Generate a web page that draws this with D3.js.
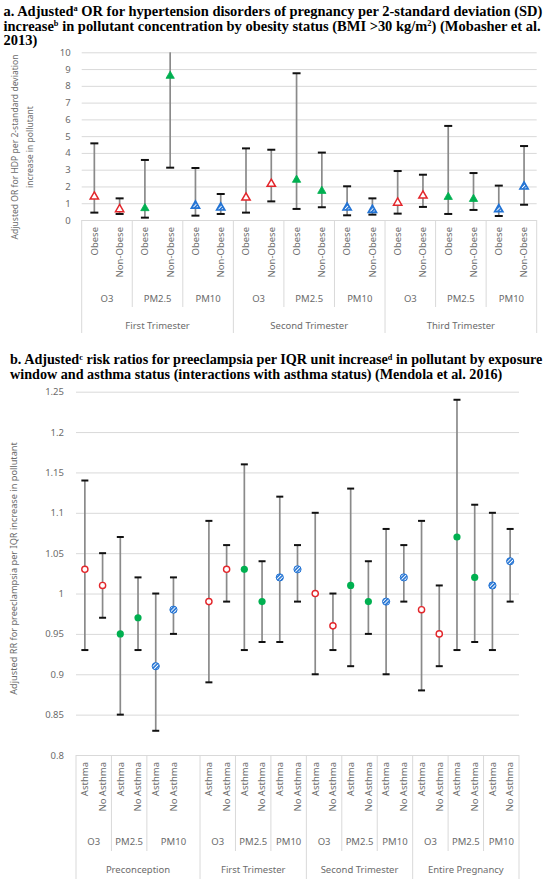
<!DOCTYPE html>
<html><head><meta charset="utf-8">
<script src="https://cdn.jsdelivr.net/npm/d3@7"></script>
<style>body{margin:0;background:#fff} svg{display:block}</style>
</head><body><svg id="c" width="551" height="885"></svg>
<script>
// ---------- Panel a data ----------
const aTrimesters = ["First Trimester", "Second Trimester", "Third Trimester"];
const aPollutants = ["O3", "PM2.5", "PM10"];
const aStatus = ["Obese", "Non-Obese"];
const aOR    = [1.39, 0.64, 0.70, 8.59, 0.85, 0.74, 1.33, 2.15, 2.39, 1.73, 0.74, 0.60, 1.03, 1.45, 1.37, 1.25, 0.64, 1.99];
const aLower = [0.44, 0.36, 0.14, 3.12, 0.26, 0.36, 0.44, 1.11, 0.66, 0.76, 0.28, 0.32, 0.38, 0.78, 0.36, 0.60, 0.24, 0.91];
const aUpper = [4.57, 1.29, 3.58, 10.5, 3.10, 1.55, 4.27, 4.19, 8.75, 4.02, 2.01, 1.29, 2.92, 2.70, 5.61, 2.80, 2.05, 4.41];
const aYTicks = [0, 1, 2, 3, 4, 5, 6, 7, 8, 9, 10];

// ---------- Panel b data ----------
const bWindows = ["Preconception", "First Trimester", "Second Trimester", "Entire Pregnancy"];
const bPollutants = ["O3", "PM2.5", "PM10"];
const bStatus = ["Asthma", "No Asthma"];
const bRR    = [1.03, 1.01, 0.95, 0.97, 0.91, 0.98, 0.99, 1.03, 1.03, 0.99, 1.02, 1.03, 1.00, 0.96, 1.01, 0.99, 0.99, 1.02, 0.98, 0.95, 1.07, 1.02, 1.01, 1.04];
const bLower = [0.93, 0.97, 0.85, 0.93, 0.83, 0.95, 0.89, 0.99, 0.93, 0.94, 0.94, 0.99, 0.90, 0.93, 0.91, 0.95, 0.90, 0.99, 0.88, 0.91, 0.93, 0.94, 0.93, 0.99];
const bUpper = [1.14, 1.05, 1.07, 1.02, 1.00, 1.02, 1.09, 1.06, 1.16, 1.04, 1.12, 1.06, 1.10, 1.00, 1.13, 1.04, 1.08, 1.06, 1.09, 1.01, 1.24, 1.11, 1.10, 1.08];
const bYTicks = [0.8, 0.85, 0.9, 0.95, 1, 1.05, 1.1, 1.15, 1.2, 1.25];
const bBlankAfter = "Preconception"; // an empty category slot follows this window's PM10 pair

// ---------- styles ----------
const polColor = {"O3": "#e3262b", "PM2.5": "#00b050", "PM10": "#2273d4"};
const txtColor = "#6b6b6b";
const gridColor = "#d9d9d9";
const axFont = "'Noto Sans', 'Open Sans', sans-serif";
const titleFont = "'Liberation Serif', 'Times New Roman', serif";

const svg = d3.select("#c");
const defs = svg.append("defs");
const pat = defs.append("pattern").attr("id", "hatch").attr("patternUnits", "userSpaceOnUse")
  .attr("width", 2.6).attr("height", 2.6).attr("patternTransform", "rotate(45)");
pat.append("rect").attr("width", 2.6).attr("height", 2.6).attr("fill", "#ffffff");
pat.append("rect").attr("width", 1.6).attr("height", 2.6).attr("fill", polColor["PM10"]);

function fitWidth(sel, target) {
  const L = sel.node().getComputedTextLength();
  const fs = parseFloat(sel.attr("font-size"));
  const nf = fs * target / L;
  sel.attr("font-size", nf.toFixed(2));
  return nf;
}

// ---------- Titles ----------
function titleLine(x, y, parts, fs) {
  const t = svg.append("text").attr("x", x).attr("y", y).attr("font-family", titleFont)
    .attr("font-weight", "bold").attr("font-size", fs).attr("fill", "#000");
  parts.forEach(p => {
    const ts = t.append("tspan").text(p.t);
    if (p.sup) ts.attr("font-size", fs * 0.58).attr("dy", -fs * 0.3);
    if (p.after) ts.attr("dy", fs * 0.3);
  });
  return t;
}
const aLine1 = [{t: "a. Adjusted"}, {t: "a", sup: true}, {t: " OR for hypertension disorders of pregnancy per 2-standard deviation (SD)", after: true}];
let fsA = 14;
{
  const probe = titleLine(3.5, 16, aLine1, 14);
  fsA = 14 * 539 / probe.node().getComputedTextLength();
  probe.remove();
}
titleLine(3.5, 15.5, aLine1, fsA);
titleLine(3.5, 30.5, [{t: "increase"}, {t: "b", sup: true}, {t: " in pollutant concentration by obesity status (BMI >30 kg/m", after: true}, {t: "2", sup: true}, {t: ") (Mobasher et al.", after: true}], fsA);
titleLine(3.5, 45, [{t: "2013)"}], fsA);

const bLine1 = [{t: "b. Adjusted"}, {t: "c", sup: true}, {t: " risk ratios for preeclampsia per IQR unit increase", after: true}, {t: "d", sup: true}, {t: " in pollutant by exposure", after: true}];
let fsB = 14;
{
  const probe = titleLine(10, 364, bLine1, 14);
  fsB = 14 * 533 / probe.node().getComputedTextLength();
  probe.remove();
}
titleLine(10, 364, bLine1, fsB);
titleLine(10, 379, [{t: "window and asthma status (interactions with asthma status) (Mendola et al. 2016)"}], fsB);

// ---------- generic panel ----------
function drawPanel(cfg) {
  const g = svg.append("g");
  const x = d3.scaleBand().domain(cfg.slots.map(s => s.key)).range([cfg.left, cfg.right]).paddingInner(0).paddingOuter(0);
  const y = d3.scaleLinear().domain(cfg.yDomain).range([cfg.bottom, cfg.top]);
  const cx = k => x(k) + x.bandwidth() / 2;

  // grid + y labels
  const ya = d3.axisLeft(y).tickValues(cfg.yTicks).tickSize(-(cfg.right - cfg.left)).tickPadding(cfg.tickPad)
    .tickFormat(v => String(+v.toFixed(2)));
  const yg = g.append("g").attr("transform", `translate(${cfg.left},0)`).call(ya);
  yg.select(".domain").remove();
  yg.selectAll(".tick line").attr("stroke", gridColor).attr("stroke-width", 1);
  yg.selectAll(".tick text").attr("fill", txtColor).attr("font-family", axFont).attr("font-size", 9.5);

  // first level x labels (rotated)
  const xa = d3.axisBottom(x).tickSize(0).tickFormat(k => cfg.slots.find(s => s.key === k).label);
  const xg = g.append("g").attr("transform", `translate(0,${cfg.bottom})`).call(xa);
  xg.select(".domain").remove();
  xg.selectAll(".tick text").attr("fill", txtColor).attr("font-family", axFont).attr("font-size", 9.5)
    .attr("transform", "rotate(-90)").attr("x", -cfg.rotPad).attr("y", 0).attr("dy", "0.35em")
    .attr("text-anchor", "end");

  // group separators and group labels
  const edges = [];
  cfg.groups.forEach(gr => {
    const x0 = x(gr.from), x1 = x(gr.to) + x.bandwidth();
    g.append("text").attr("x", (x0 + x1) / 2).attr("y", cfg.polY).attr("text-anchor", "middle")
      .attr("fill", txtColor).attr("font-family", axFont).attr("font-size", 9.5).text(gr.label);
    edges.push(x0, x1);
  });
  const periodEdges = [];
  cfg.periods.forEach(p => {
    const x0 = x(p.from), x1 = x(p.to) + x.bandwidth();
    g.append("text").attr("x", (x0 + x1) / 2).attr("y", cfg.perY).attr("text-anchor", "middle")
      .attr("fill", txtColor).attr("font-family", axFont).attr("font-size", 9.5).text(p.label);
    periodEdges.push(x0, x1);
  });
  const uniq = Array.from(new Set(edges.map(e => e.toFixed(2)))).map(Number);
  const pUniq = new Set(periodEdges.map(e => e.toFixed(2)));
  uniq.forEach(e => {
    const isP = pUniq.has(e.toFixed(2));
    g.append("line").attr("x1", e).attr("x2", e).attr("y1", cfg.bottom).attr("y2", isP ? cfg.perLineEnd : cfg.polLineEnd)
      .attr("stroke", gridColor).attr("stroke-width", 1);
  });

  // y title (all lines share the size fitted on the first line)
  let fsT = 10;
  cfg.yTitle.forEach((line, i) => {
    const t = g.append("text").attr("transform", `translate(${cfg.yTitleX[i]},${cfg.yTitleY}) rotate(-90)`)
      .attr("text-anchor", "middle").attr("fill", txtColor).attr("font-family", axFont).attr("font-size", fsT)
      .attr("dy", "0.35em").text(line);
    if (i === 0) fsT = fitWidth(t, cfg.yTitleW);
  });

  // error bars
  const ymax = cfg.yDomain[1];
  cfg.points.forEach(p => {
    const X = cx(p.key);
    g.append("line").attr("x1", X).attr("x2", X).attr("y1", y(p.lo)).attr("y2", y(Math.min(p.hi, ymax)))
      .attr("stroke", "#8a8a8a").attr("stroke-width", 1.7);
    [p.lo, p.hi].forEach(v => {
      if (v <= ymax) g.append("line").attr("x1", X - cfg.cap / 2).attr("x2", X + cfg.cap / 2)
        .attr("y1", y(v)).attr("y2", y(v)).attr("stroke", "#111").attr("stroke-width", 2);
    });
  });
  // markers
  cfg.points.forEach(p => cfg.marker(g, cx(p.key), y(p.v), p.pol));
}

// ---------- Panel a ----------
const aSlots = [], aPoints = [], aGroups = [], aPeriods = [];
let ai = 0;
aTrimesters.forEach(tr => {
  const first = ai;
  aPollutants.forEach(pol => {
    const gFirst = ai;
    aStatus.forEach(st => {
      const key = "a" + ai;
      aSlots.push({key, label: st});
      aPoints.push({key, pol, v: aOR[ai], lo: aLower[ai], hi: aUpper[ai]});
      ai++;
    });
    aGroups.push({label: pol, from: "a" + gFirst, to: "a" + (ai - 1)});
  });
  aPeriods.push({label: tr, from: "a" + first, to: "a" + (ai - 1)});
});

drawPanel({
  slots: aSlots, points: aPoints, groups: aGroups, periods: aPeriods,
  left: 81.7, right: 536.7, top: 52.3, bottom: 220, yDomain: [0, 10], yTicks: aYTicks, tickPad: 11,
  rotPad: 7, polY: 301.5, perY: 328.5, polLineEnd: 307, perLineEnd: 333, cap: 8,
  yTitle: ["Adjusted OR for HDP per 2-standard deviation", "increase in pollutant"],
  yTitleX: [14.5, 30], yTitleY: 147, yTitleW: 185,
  marker: (g, X, Y, pol) => {
    const path = d3.symbol(d3.symbolTriangle, 30)();
    const m = g.append("path").attr("d", path).attr("transform", `translate(${X},${Y})`);
    if (pol === "PM2.5") m.attr("fill", polColor[pol]).attr("stroke", polColor[pol]).attr("stroke-width", 0.8);
    else if (pol === "PM10") m.attr("fill", "url(#hatch)").attr("stroke", polColor[pol]).attr("stroke-width", 1.6);
    else m.attr("fill", "#fff").attr("stroke", polColor[pol]).attr("stroke-width", 1.5);
  }
});

// ---------- Panel b ----------
const bSlots = [], bPoints = [], bGroups = [], bPeriods = [];
let bi = 0, slotN = 0;
bWindows.forEach(w => {
  const first = slotN;
  bPollutants.forEach((pol, pi) => {
    const gFirst = slotN;
    bStatus.forEach(st => {
      const key = "b" + slotN;
      bSlots.push({key, label: st});
      bPoints.push({key, pol, v: bRR[bi], lo: bLower[bi], hi: bUpper[bi]});
      bi++; slotN++;
    });
    if (w === bBlankAfter && pi === bPollutants.length - 1) {
      bSlots.push({key: "b" + slotN, label: ""});
      slotN++;
    }
    bGroups.push({label: pol, from: "b" + gFirst, to: "b" + (slotN - 1)});
  });
  bPeriods.push({label: w, from: "b" + first, to: "b" + (slotN - 1)});
});

drawPanel({
  slots: bSlots, points: bPoints, groups: bGroups, periods: bPeriods,
  left: 76, right: 519, top: 391.7, bottom: 755, yDomain: [0.8, 1.25], yTicks: bYTicks, tickPad: 12,
  rotPad: 7, polY: 844.5, perY: 873, polLineEnd: 851, perLineEnd: 879, cap: 7,
  yTitle: ["Adjusted RR for preeclampsia per IQR  increase in pollutant"],
  yTitleX: [13.5], yTitleY: 568.5, yTitleW: 253,
  marker: (g, X, Y, pol) => {
    if (pol === "PM2.5") g.append("circle").attr("cx", X).attr("cy", Y).attr("r", 3.6).attr("fill", polColor[pol]);
    else if (pol === "PM10") g.append("circle").attr("cx", X).attr("cy", Y).attr("r", 3.6).attr("fill", "url(#hatch)").attr("stroke", polColor[pol]).attr("stroke-width", 1);
    else g.append("circle").attr("cx", X).attr("cy", Y).attr("r", 3.1).attr("fill", "#fff").attr("stroke", polColor[pol]).attr("stroke-width", 1.4);
  }
});
</script>
</body></html>
